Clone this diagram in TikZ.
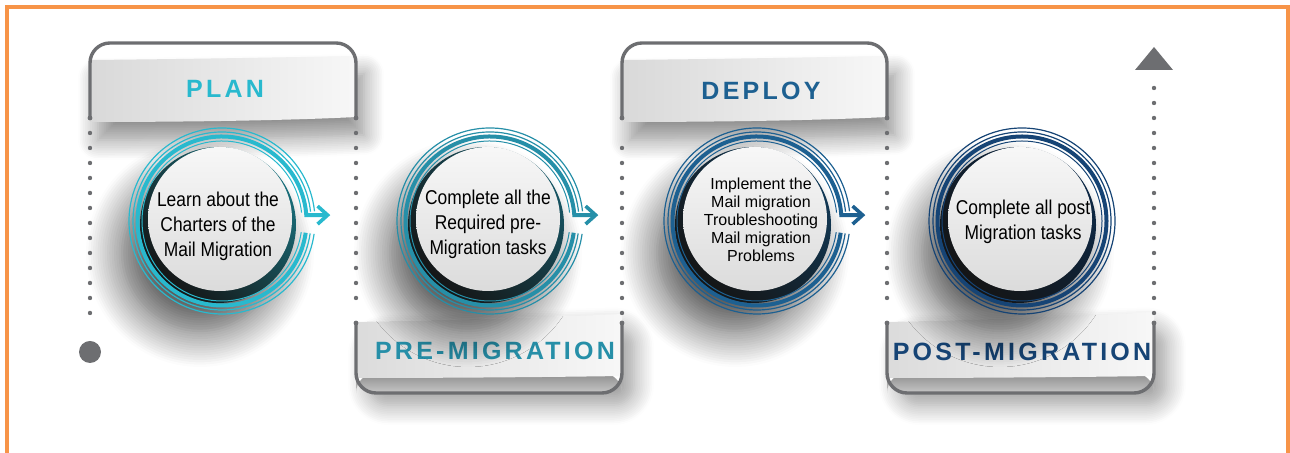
\documentclass[tikz,border=0pt]{standalone}
\usepackage{fontspec}
\setmainfont{Liberation Sans}
\newfontfamily\circfont[FakeStretch=0.87]{Liberation Sans}
\newfontfamily\labfont[LetterSpace=13]{Liberation Sans Bold}
\usetikzlibrary{arrows.meta,shadows.blur}
\definecolor{cA}{RGB}{41,185,206}
\definecolor{cB}{RGB}{38,143,168}
\definecolor{cC}{RGB}{29,96,145}
\definecolor{cD}{RGB}{22,68,117}
\definecolor{framegray}{RGB}{109,110,113}
\definecolor{orng}{RGB}{247,148,72}
\tikzset{
  outline/.style={framegray, line width=1.7pt, rounded corners=10pt},
  dotline/.style={framegray, line width=2.2pt, line cap=round, dash pattern=on 0pt off 7.5pt},
  enddot/.style={circle, fill=framegray, inner sep=0pt, minimum size=2.4pt},
  toplabel/.style={font=\labfont\fontsize{12.5}{14}\selectfont},
  circtext/.style={align=center, font=\circfont\fontsize{10}{12.5}\selectfont, text=black},
  topband/.style={left color=black!15, right color=black!3,
     blur shadow={shadow xshift=4pt, shadow yshift=-9pt, shadow blur radius=10pt, shadow blur steps=12, shadow opacity=45}},
  botband/.style={left color=black!14, right color=black!3},
  boxshadow/.style={blur shadow={shadow xshift=6pt, shadow yshift=-6pt, shadow blur radius=10pt, shadow blur steps=12, shadow opacity=40}},
}
% #1 name, #2 centre, #3 colour, #4 arrow (1) or closed (0)
\newcommand\StageRing[4]{%
  \coordinate (#1) at (#2);
  \path[blur shadow={shadow xshift=-9pt, shadow yshift=-14pt, shadow blur radius=18pt, shadow blur steps=16, shadow opacity=70},
        top color=#3!60!black, bottom color=black!92, shading angle=-45]
        (#1) ++(-4,-4) circle[radius=78];
  \ifnum#4=1
    \draw[#3, line width=0.6pt] (#1) ++(-8:93) arc[start angle=-8, end angle=-354, radius=93];
    \draw[#3, line width=0.6pt] (#1) ++(-8:89) arc[start angle=-8, end angle=-354, radius=89];
    \draw[#3, line width=2pt, -{Straight Barb[length=5pt, width=9pt, line width=1.8pt]}]
        (#1) ++(-8:84.5) arc[start angle=-8, end angle=-356, radius=84.5] -- ++(24,0);
    \draw[#3, line width=0.5pt] (#1) ++(-8:80) arc[start angle=-8, end angle=-354, radius=80];
  \else
    \draw[#3, line width=0.6pt] (#1) circle[radius=93];
    \draw[#3, line width=0.6pt] (#1) circle[radius=89];
    \draw[#3, line width=2pt] (#1) circle[radius=84.5];
    \draw[#3, line width=0.5pt] (#1) circle[radius=80];
  \fi
  \path[top color=black!3, bottom color=black!14] (#1) ++(-2,2) circle[radius=72];
}
\begin{document}
\begin{tikzpicture}[x=0.5pt, y=0.5pt]
\useasboundingbox (0,0) rectangle (1290,453);

% ---------- named corner points ----------
\coordinate (planBL) at (90,335);  \coordinate (planBR) at (356,335);
\coordinate (preTL)  at (356,130); \coordinate (preTR)  at (622,130);
\coordinate (depBL)  at (622,335); \coordinate (depBR)  at (887,335);
\coordinate (postTL) at (887,130); \coordinate (postTR) at (1154,130);
\coordinate (arrowbase) at (1154,383);

% ---------- top tabs ----------
\path[topband] (90,331) -- (90,393) .. controls (200,394) and (300,396) .. (356,397)
   -- (356,336) .. controls (300,333) and (200,331) .. (90,331) -- cycle;
\draw[outline] (planBL) -- (90,410) -- (356,410) -- (planBR);
\node[toplabel, text=cA] (planlab) at (225,364) {PLAN};

\path[topband] (622,331) -- (622,393) .. controls (730,394) and (830,396) .. (887,397)
   -- (887,336) .. controls (830,333) and (730,331) .. (622,331) -- cycle;
\draw[outline] (depBL) -- (622,410) -- (887,410) -- (depBR);
\node[toplabel, text=cC] (deplab) at (761,362) {DEPLOY};

% ---------- bottom boxes ----------
\path[boxshadow, fill=white, rounded corners=10pt] (356,131) -- (356,60) -- (622,60) -- (622,138) -- cycle;
\path[top color=black!45, bottom color=black!22, rounded corners=10pt] (356,80) -- (356,60) -- (622,60) -- (622,80) -- cycle;
\path[botband] (356,75) -- (356,131) .. controls (450,133) and (560,136) .. (622,139)
   -- (622,77) .. controls (560,76) and (450,75) .. (356,75) -- cycle;
\draw[outline] (preTL) -- (356,60) -- (622,60) -- (preTR);
\node[toplabel, text=cB] (prelab) at (495,102) {PRE-MIGRATION};

\path[boxshadow, fill=white, rounded corners=10pt] (887,131) -- (887,60) -- (1154,60) -- (1154,138) -- cycle;
\path[top color=black!45, bottom color=black!22, rounded corners=10pt] (887,80) -- (887,60) -- (1154,60) -- (1154,80) -- cycle;
\path[botband] (887,75) -- (887,131) .. controls (980,133) and (1090,137) .. (1154,141)
   -- (1154,77) .. controls (1090,76) and (980,75) .. (887,75) -- cycle;
\draw[outline] (postTL) -- (887,60) -- (1154,60) -- (postTR);
\node[toplabel, text=cD] (postlab) at (1022,101) {POST-MIGRATION};

% ---------- circles ----------
\StageRing{s1}{222,232}{cA}{1}
\StageRing{s2}{490,232}{cB}{1}
\StageRing{s3}{757,232}{cC}{1}
\StageRing{s4}{1022,232}{cD}{0}

\node[circtext] (t1) at (218,227) {Learn about the\\Charters of the\\Mail Migration};
\node[circtext] (t2) at (488,229) {Complete all the\\Required pre-\\Migration tasks};
\node[circtext, font=\fontsize{8}{9}\selectfont] (t3) at (761,233) {Implement the\\Mail migration\\Troubleshooting\\Mail migration\\Problems};
\node[circtext] (t4) at (1023,231) {Complete all post\\Migration tasks};

% ---------- dotted connectors ----------
\node[circle, fill=framegray, inner sep=0pt, minimum size=11pt] (startdot) at (90,101) {};
\foreach \p in {planBL,planBR,preTL,preTR,depBL,depBR,postTL,postTR}
  \node[enddot] at (\p) {};
\draw[dotline] ([yshift=-7.5pt]planBL) -- ([yshift=12pt]startdot.center);
\draw[dotline] ([yshift=-7.5pt]planBR) -- ([yshift=5pt]preTL);
\draw[dotline] ([yshift=5pt]preTR) -- ([yshift=-7.5pt]depBL);
\draw[dotline] ([yshift=-7.5pt]depBR) -- ([yshift=5pt]postTL);
\draw[dotline] ([yshift=5pt]postTR) -- ([yshift=-3.5pt]arrowbase);
\fill[framegray] (1135,383) -- (1154,406) -- (1173,383) -- cycle;

% ---------- orange frame ----------
\draw[orng, line width=2pt] (7,0) -- (7,446) -- (1288,446) -- (1288,0);
\end{tikzpicture}
\end{document}
